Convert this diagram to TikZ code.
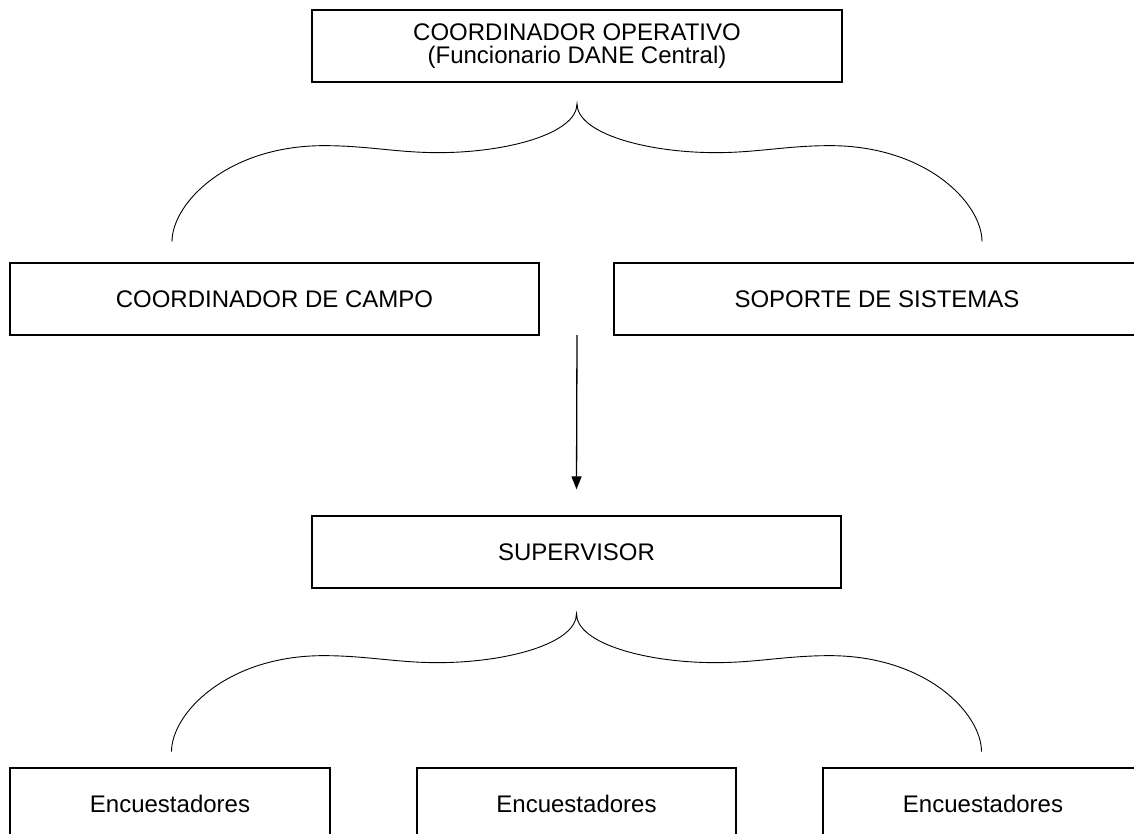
\documentclass[tikz,border=0pt]{standalone}
\usepackage{fontspec}
\setmainfont{Liberation Sans}
\usetikzlibrary{arrows.meta}

\begin{document}
\begin{tikzpicture}[x=1pt,y=-1pt,>={Triangle[length=13pt,width=10pt]},
  main node/.style={rectangle,draw,line width=1.3pt,minimum height=72pt,inner sep=0pt,align=center,font=\fontsize{24}{23.5}\selectfont},
  brace line/.style={line width=0.9pt},
  llave/.pic={
    \draw[brace line] (-405,138) .. controls (-405,100) and (-350,42) .. (-253,42)
      .. controls (-210,42) and (-180,49) .. (-139,49)
      .. controls (-70,49) and (0,30) .. (0,0)
      .. controls (0,30) and (70,49) .. (139,49)
      .. controls (180,49) and (210,42) .. (253,42)
      .. controls (350,42) and (405,100) .. (405,138);
  }]
\clip (0,0) rectangle (1134,834); % page size of the reference

\node[main node,minimum width=530pt] (op) at (577,46) {COORDINADOR OPERATIVO\\(Funcionario DANE Central)}; % top of the chart
\node[main node,minimum width=529pt] (campo) at (274.5,299) {COORDINADOR DE CAMPO};
\node[main node,minimum width=526pt] (sistemas) at (877,299) {SOPORTE DE SISTEMAS};
\node[main node,minimum width=529pt] (sup) at (576.5,552) {SUPERVISOR};
\node[main node,minimum width=320pt] (enc1) at (170,804) {Encuestadores}; % cut by the bottom edge
\node[main node,minimum width=319pt] (enc2) at (576.5,804) {Encuestadores};
\node[main node,minimum width=320pt] (enc3) at (983,804) {Encuestadores};

\pic (llave1) at ([yshift=-21pt]op.south) {llave}; % brace over campo and sistemas
\pic (llave2) at ([yshift=-25pt]sup.south) {llave}; % brace over the encuestadores

\coordinate (flecha) at (577,335);
\draw[->,line width=1.3pt] (flecha) -- ([yshift=26pt]sup.north);
\end{tikzpicture}
\end{document}
